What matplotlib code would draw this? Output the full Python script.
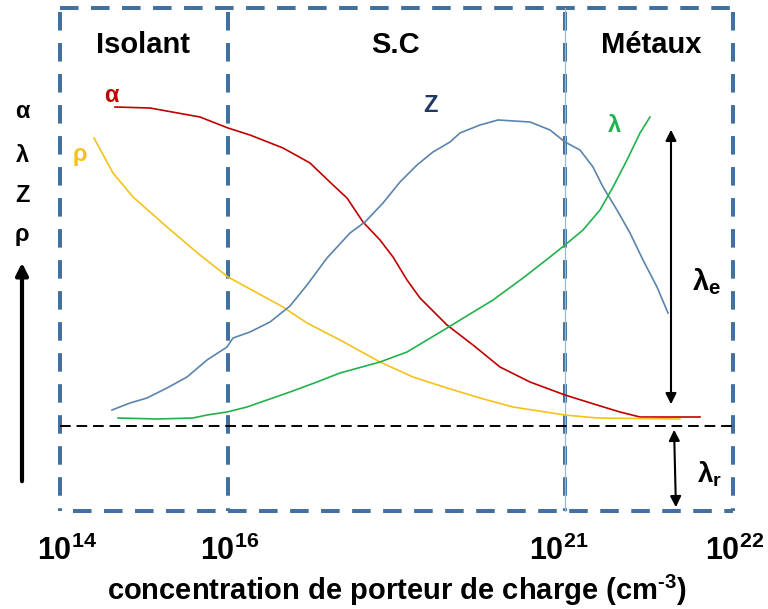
import matplotlib
matplotlib.use('Agg')
from matplotlib import pyplot as plt

plt.rcParams['font.family'] = ['Liberation Sans', 'DejaVu Sans']
plt.rcParams['font.weight'] = 'bold'
plt.rcParams['mathtext.fontset'] = 'custom'
plt.rcParams['mathtext.rm'] = 'Liberation Sans:bold'
plt.rcParams['mathtext.bf'] = 'Liberation Sans:bold'
plt.rcParams['mathtext.it'] = 'Liberation Sans:bold'

# schematic curves, coordinates (pixel frame, y downward)
alpha_x = [115, 150, 200, 228, 250, 283, 310, 333, 347, 363, 380, 393, 407, 420, 447, 473, 500, 530, 565, 597, 620, 640, 700]
alpha_y = [107, 108, 117, 128, 135, 148, 163, 185, 198, 222, 240, 257, 280, 298, 325, 345, 367, 382, 395, 405, 412, 417, 417]

rho_x = [94, 113, 133, 167, 200, 228, 250, 283, 307, 340, 380, 413, 447, 480, 513, 565, 597, 680]
rho_y = [138, 173, 197, 227, 255, 277, 289, 307, 323, 340, 362, 377, 388, 398, 407, 415, 418, 419]

z_x = [112, 130, 147, 167, 187, 207, 227, 233, 250, 270, 290, 307, 327, 350, 365, 383, 400, 417, 433, 450,
       460, 480, 498, 530, 550, 565, 580, 593, 603, 617, 630, 643, 657, 668]
z_y = [410, 403, 398, 388, 377, 360, 347, 338, 332, 322, 306, 285, 258, 233, 222, 203, 182, 165, 152, 142,
       133, 125, 120, 122, 130, 142, 150, 167, 187, 210, 233, 260, 287, 313]

lam_x = [118, 157, 193, 207, 227, 247, 267, 290, 317, 340, 380, 407, 447, 493, 523, 550, 565, 583, 600, 613, 627, 640, 650]
lam_y = [418, 419, 418, 415, 412, 407, 400, 392, 382, 373, 362, 352, 328, 300, 278, 257, 245, 230, 210, 187, 160, 133, 117]

tick_labels = ['10$^{14}$', '10$^{16}$', '10$^{21}$', '10$^{22}$']
tick_x = [67, 230, 559, 735]
zones = ['Isolant', 'S.C', 'Métaux']
zone_x = [143, 395, 651]
xlabel = 'concentration de porteur de charge (cm$^{\\text{-}3}$)'

box_col = '#41719C'
c_alpha = '#C00000'
c_rho = '#F5C21B'
c_z = '#5B84AD'
c_lam = '#22B14C'

fig = plt.figure(figsize=(7.68, 6.09), dpi=100)
ax = fig.add_axes([0, 0, 1, 1])
ax.set_xlim(0, 768)
ax.set_ylim(609, 0)
ax.axis('off')

# dashed region boxes
dash = (0, (4.6, 3.1))
ax.plot([60, 733], [8, 8], color=box_col, lw=2.9, ls=dash)
ax.plot([73, 733], [511, 511], color=box_col, lw=2.9, ls=dash)
for xv in [60, 228, 565, 733]:
    ax.plot([xv, xv], [12, 511], color=box_col, lw=2.9, ls=dash)
ax.plot([565, 565], [8, 511], color='#9DB8D3', lw=0.9)

# lambda_r baseline
ax.plot([60, 735], [426, 426], color='black', lw=1.4, ls=(0, (5.5, 3)))

ax.plot(alpha_x, alpha_y, color=c_alpha, lw=1.2)
ax.plot(rho_x, rho_y, color=c_rho, lw=1.2)
ax.plot(z_x, z_y, color=c_z, lw=1.2)
ax.plot(lam_x, lam_y, color=c_lam, lw=1.2)

# curve labels
ax.text(111, 96, 'α', color=c_alpha, fontsize=17, ha='center', va='center')
ax.text(80, 155, 'ρ', color=c_rho, fontsize=17, ha='center', va='center')
ax.text(430, 105, 'Z', color='#1F3864', fontsize=17, ha='center', va='center')
ax.text(614, 126, 'λ', color=c_lam, fontsize=17, ha='center', va='center')

# y axis symbols and arrow
for s, yv in zip(['α', 'λ', 'Z', 'ρ'], [112, 155, 195, 235]):
    ax.text(22, yv, s, fontsize=17, ha='center', va='center')
ax.annotate('', xy=(22, 260), xytext=(22, 484),
            arrowprops=dict(arrowstyle='-|>', lw=3, color='black', mutation_scale=18))

# lambda_e and lambda_r arrows
ax.annotate('', xy=(671, 127), xytext=(671, 407),
            arrowprops=dict(arrowstyle='<|-|>', lw=1.5, color='black', mutation_scale=16))
ax.annotate('', xy=(674, 427), xytext=(676, 510),
            arrowprops=dict(arrowstyle='<|-|>', lw=1.5, color='black', mutation_scale=16))
ax.text(692, 282, 'λ$_{e}$', fontsize=21, ha='left', va='center')
ax.text(697, 474, 'λ$_{r}$', fontsize=20, ha='left', va='center')

for z, xv in zip(zones, zone_x):
    ax.text(xv, 45, z, fontsize=21, ha='center', va='center')

for t, xv in zip(tick_labels, tick_x):
    ax.text(xv, 551, t, fontsize=22, ha='center', va='center')
ax.text(397, 590, xlabel, fontsize=21, ha='center', va='center')

fig.savefig('out.png', dpi=100)
